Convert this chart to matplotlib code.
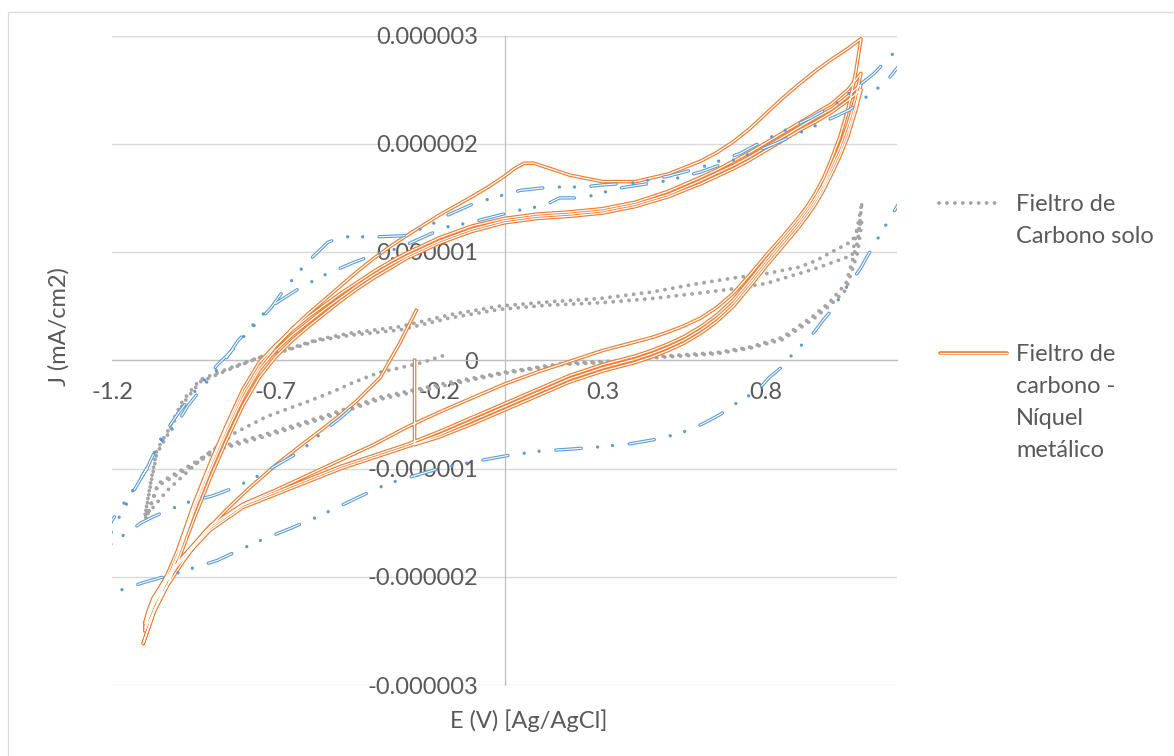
import matplotlib
matplotlib.use("Agg")
import matplotlib.pyplot as plt
import numpy as np
from matplotlib.lines import Line2D
from matplotlib.patches import Rectangle

plt.rcParams['font.family'] = ['Lato', 'DejaVu Sans']
plt.rcParams['lines.scale_dashes'] = False

W, H = 1174, 756
J_SCALE = 1e-6

# ---------------- Fieltro de Carbono solo (gris, punteado) ----------------
cf_start_e = [-0.19, -0.25, -0.32, -0.38, -0.45, -0.525, -0.6, -0.727, -0.83, -0.93, -1.03, -1.08, -1.1]
cf_start_j = [0.04, -0.02, -0.07, -0.11, -0.19, -0.29, -0.38, -0.52, -0.68, -0.92, -1.2, -1.38, -1.45]

cf_an_e = [-1.1, -1.08, -1.063, -1.032, -0.983, -0.931, -0.83, -0.727, -0.666, -0.574, -0.473, -0.32, -0.168,
           -0.015, 0.137, 0.29, 0.45, 0.595, 0.7, 0.8, 0.9, 0.953, 1.0, 1.063, 1.093]
cf_an1_j = [-1.45, -1.1, -0.83, -0.67, -0.37, -0.18, -0.06, 0.05, 0.09, 0.18, 0.23, 0.28, 0.39,
            0.47, 0.51, 0.53, 0.57, 0.62, 0.66, 0.71, 0.8, 0.85, 0.9, 0.97, 1.46]
cf_an2_j = [-1.45, -1.12, -0.86, -0.7, -0.4, -0.2, -0.07, 0.05, 0.1, 0.19, 0.25, 0.31, 0.42,
            0.5, 0.54, 0.57, 0.63, 0.71, 0.76, 0.8, 0.86, 0.92, 1.0, 1.1, 1.3]

cf_cat_e = [1.093, 1.08, 1.044, 0.992, 0.94, 0.849, 0.748, 0.647, 0.443, 0.38, 0.177, 0.0, -0.177, -0.38,
            -0.525, -0.727, -0.88, -0.95, -1.06, -1.093]
cf_cat1_j = [1.46, 1.1, 0.71, 0.53, 0.40, 0.21, 0.12, 0.07, 0.03, 0.0, -0.03, -0.11, -0.21, -0.34,
             -0.49, -0.68, -0.81, -0.95, -1.14, -1.45]
cf_cat2_j = [1.3, 1.0, 0.65, 0.5, 0.37, 0.19, 0.11, 0.06, 0.02, -0.01, -0.04, -0.12, -0.23, -0.36,
             -0.51, -0.7, -0.83, -0.97, -1.16, -1.43]

# ---------------- Fieltro de carbono - Níquel metálico (naranja) ----------------
ni_start_e = [-0.27, -0.32, -0.38, -0.45, -0.50, -0.55, -0.62, -0.70, -0.78, -0.85, -0.92, -0.98, -1.03, -1.07, -1.105]
ni_start_j = [0.46, 0.16, -0.16, -0.37, -0.50, -0.62, -0.78, -0.97, -1.18, -1.38, -1.6, -1.85, -2.08, -2.32, -2.62]

ni_an1_e = [-1.105, -1.07, -1.03, -1.0, -0.95, -0.9, -0.85, -0.8, -0.75, -0.7, -0.65, -0.6, -0.55, -0.5, -0.45,
            -0.4, -0.35, -0.3, -0.2, -0.1, -0.05, 0.0, 0.03, 0.06, 0.09, 0.13, 0.2, 0.3, 0.4, 0.5, 0.6, 0.65,
            0.7, 0.75, 0.8, 0.85, 0.9, 0.95, 1.0, 1.05, 1.09]
ni_an1_j = [-2.62, -2.3, -2.02, -1.8, -1.36, -0.98, -0.63, -0.31, -0.06, 0.13, 0.29, 0.43, 0.56, 0.69, 0.82,
            0.94, 1.05, 1.15, 1.34, 1.51, 1.6, 1.7, 1.77, 1.82, 1.82, 1.78, 1.71, 1.65, 1.65, 1.72, 1.84, 1.92,
            2.02, 2.14, 2.28, 2.42, 2.55, 2.67, 2.78, 2.88, 2.97]

ni_an_e = [-1.1, -1.07, -1.03, -1.0, -0.95, -0.9, -0.85, -0.8, -0.75, -0.7, -0.65, -0.6, -0.55, -0.5, -0.45,
           -0.4, -0.35, -0.3, -0.2, -0.1, 0.0, 0.1, 0.2, 0.3, 0.4, 0.5, 0.6, 0.65, 0.7, 0.75, 0.8, 0.85, 0.9,
           0.95, 1.0, 1.05, 1.09]
ni_an2_j = [-2.43, -2.2, -1.97, -1.76, -1.33, -0.95, -0.6, -0.27, -0.02, 0.14, 0.28, 0.4, 0.51, 0.62, 0.72,
            0.82, 0.91, 0.99, 1.13, 1.24, 1.31, 1.35, 1.37, 1.40, 1.46, 1.56, 1.69, 1.76, 1.84, 1.92, 2.01, 2.1,
            2.19, 2.28, 2.37, 2.5, 2.65]
ni_an3_j = [-2.47, -2.25, -2.02, -1.82, -1.4, -1.02, -0.67, -0.35, -0.09, 0.09, 0.23, 0.35, 0.47, 0.58, 0.69,
            0.79, 0.88, 0.96, 1.1, 1.21, 1.29, 1.33, 1.35, 1.38, 1.44, 1.53, 1.66, 1.73, 1.8, 1.88, 1.97, 2.06,
            2.15, 2.24, 2.32, 2.44, 2.55]
ni_an4_j = [-2.5, -2.3, -2.07, -1.87, -1.47, -1.09, -0.74, -0.42, -0.16, 0.03, 0.18, 0.31, 0.43, 0.55, 0.66,
            0.76, 0.85, 0.94, 1.08, 1.19, 1.27, 1.31, 1.33, 1.36, 1.42, 1.51, 1.63, 1.7, 1.77, 1.85, 1.94, 2.03,
            2.12, 2.2, 2.29, 2.4, 2.5]

ni_cat_e = [1.09, 1.075, 1.06, 1.05, 1.025, 1.0, 0.975, 0.95, 0.925, 0.9, 0.875, 0.85, 0.8, 0.75, 0.7, 0.65,
            0.6, 0.55, 0.5, 0.45, 0.4, 0.3, 0.2, 0.1, 0.0, -0.1, -0.2, -0.3, -0.4, -0.5, -0.6, -0.7, -0.8, -0.9,
            -0.95, -1.0, -1.05, -1.075, -1.09, -1.1]
ni_cat1_j = [2.97, 2.68, 2.45, 2.32, 2.06, 1.86, 1.68, 1.54, 1.42, 1.32, 1.23, 1.14, 0.97, 0.79, 0.62, 0.49,
             0.39, 0.32, 0.26, 0.21, 0.17, 0.09, -0.01, -0.11, -0.22, -0.35, -0.48, -0.62, -0.78, -0.92, -1.06,
             -1.2, -1.33, -1.53, -1.7, -1.87, -2.08, -2.2, -2.32, -2.43]
ni_cat2_j = [2.65, 2.45, 2.28, 2.18, 1.97, 1.8, 1.63, 1.5, 1.39, 1.29, 1.2, 1.11, 0.93, 0.74, 0.56, 0.42,
             0.31, 0.22, 0.15, 0.09, 0.04, -0.04, -0.14, -0.27, -0.40, -0.53, -0.66, -0.78, -0.88, -0.98, -1.1,
             -1.22, -1.34, -1.55, -1.71, -1.88, -2.1, -2.23, -2.35, -2.47]
ni_cat3_j = [2.55, 2.37, 2.22, 2.12, 1.92, 1.76, 1.6, 1.47, 1.36, 1.26, 1.17, 1.08, 0.9, 0.71, 0.53, 0.39,
             0.28, 0.19, 0.12, 0.06, 0.01, -0.07, -0.17, -0.3, -0.43, -0.56, -0.69, -0.8, -0.9, -1.0, -1.12,
             -1.24, -1.36, -1.57, -1.73, -1.9, -2.12, -2.26, -2.38, -2.5]
ni_end_e = [1.09, 1.075, 1.06, 1.05, 1.025, 1.0, 0.975, 0.95, 0.925, 0.9, 0.875, 0.85, 0.8, 0.75, 0.7, 0.65,
            0.6, 0.55, 0.5, 0.45, 0.4, 0.3, 0.2, 0.1, 0.0, -0.1, -0.2, -0.275, -0.275]
ni_end_j = [2.5, 2.32, 2.17, 2.07, 1.88, 1.72, 1.57, 1.44, 1.33, 1.23, 1.14, 1.05, 0.87, 0.68, 0.5, 0.36,
            0.25, 0.16, 0.09, 0.03, -0.02, -0.1, -0.2, -0.33, -0.46, -0.59, -0.71, -0.78, 0.0]

# ---------------- tercera serie (azul, sin leyenda) ----------------
bl_start_e = [-0.47, -0.50, -0.556, -0.595, -0.64, -0.68, -0.754, -0.82, -0.89, -0.977, -1.07, -1.11, -1.185, -1.25]
bl_start_j = [-0.45, -0.53, -0.66, -0.77, -0.87, -0.94, -1.07, -1.17, -1.25, -1.32, -1.44, -1.5, -1.66, -1.8]

bl_an1_e = [-1.3, -1.25, -1.2, -1.136, -1.093, -1.063, -1.0, -0.968, -0.91, -0.855, -0.815, -0.718, -0.635, -0.556,
            -0.464, -0.42, -0.32, -0.18, -0.107, 0.034, 0.122, 0.168, 0.217, 0.266, 0.35, 0.5, 0.6, 0.754, 0.834,
            0.968, 1.053, 1.166, 1.206, 1.3]
bl_an1_j = [-2.0, -1.78, -1.48, -1.2, -1.0, -0.8, -0.58, -0.42, -0.2, 0.0, 0.18, 0.49, 0.65, 0.78,
            0.9, 0.95, 1.04, 1.23, 1.27, 1.38, 1.43, 1.5, 1.5, 1.52, 1.59, 1.66, 1.74, 1.91, 2.01,
            2.19, 2.31, 2.57, 2.72, 3.05]

bl_cat_e = [1.3, 1.25, 1.206, 1.16, 1.111, 1.087, 1.032, 1.008, 0.974, 0.947, 0.879, 0.849, 0.809, 0.773, 0.696,
            0.66, 0.617, 0.571, 0.482, 0.388, 0.29, 0.205, 0.107, 0.01, -0.1, -0.2, -0.357, -0.443, -0.574, -0.66,
            -0.751, -0.879, -1.017, -1.1, -1.2, -1.3]
bl_cat_j = [3.05, 2.0, 1.45, 1.22, 0.97, 0.84, 0.62, 0.49, 0.37, 0.26, 0.05, -0.06, -0.16, -0.28, -0.42,
            -0.5, -0.57, -0.64, -0.72, -0.77, -0.80, -0.82, -0.84, -0.88, -0.94, -1.0, -1.14, -1.26, -1.45, -1.56,
            -1.67, -1.85, -1.98, -2.05, -2.15, -2.3]

bl_an2_e = [-1.3, -1.2, -1.136, -1.09, -1.05, -1.0, -0.95, -0.88, -0.83, -0.794, -0.715, -0.672, -0.605, -0.54,
            -0.495, -0.45, -0.39, -0.31, -0.266, -0.22, -0.174, -0.092, 0.0, 0.05, 0.14, 0.24, 0.3, 0.4, 0.5, 0.6,
            0.72, 0.8, 0.937, 1.014, 1.13, 1.19, 1.3]
bl_an2_j = [-2.3, -1.57, -1.22, -0.98, -0.72, -0.5, -0.3, -0.05, 0.1, 0.23, 0.48, 0.66, 0.90, 1.09,
            1.14, 1.14, 1.14, 1.15, 1.2, 1.26, 1.34, 1.45, 1.53, 1.57, 1.60, 1.60, 1.62, 1.64, 1.70, 1.78,
            1.91, 2.04, 2.24, 2.37, 2.65, 2.84, 3.15]

x_ticks = [-1.2, -0.7, -0.2, 0.3, 0.8]
x_tick_labels = ["-1.2", "-0.7", "-0.2", "0.3", "0.8"]
y_ticks = [-3, -2, -1, 0, 1, 2, 3]
y_tick_labels = ["-0.000003", "-0.000002", "-0.000001", "0", "0.000001", "0.000002", "0.000003"]

legend_labels = [["Fieltro de", "Carbono solo"], ["Fieltro de", "carbono -", "Níquel", "metálico"]]

GRAY = "#A5A5A5"
ORANGE = "#ED7D31"
BLUE = "#5B9BD5"
TXT = "#595959"

# series completas (orden del barrido)
cf_e = np.concatenate([cf_start_e, cf_an_e, cf_cat_e, cf_an_e, cf_cat_e])
cf_j = np.concatenate([cf_start_j, cf_an1_j, cf_cat1_j, cf_an2_j, cf_cat2_j]) * J_SCALE

ni_e = np.concatenate([ni_start_e, ni_an1_e, ni_cat_e, ni_an_e, ni_cat_e, ni_an_e, ni_cat_e, ni_an_e, ni_end_e])
ni_j = np.concatenate([ni_start_j, ni_an1_j, ni_cat1_j, ni_an2_j, ni_cat2_j, ni_an3_j, ni_cat3_j,
                       ni_an4_j, ni_end_j]) * J_SCALE

bl_e = np.concatenate([bl_start_e, bl_an1_e, bl_cat_e, bl_an2_e])
bl_j = np.concatenate([bl_start_j, bl_an1_j, bl_cat_j, bl_an2_j]) * J_SCALE

fig = plt.figure(figsize=(W / 100, H / 100), dpi=100)
ax = fig.add_axes([112 / W, (H - 685) / H, (897 - 112) / W, (685 - 35.5) / H])

dot_style = (0, (0.01, 5.7))
blue_dash = (0, (18.4, 12.0, 0.01, 10.8, 0.01, 11.8))
blue_inner = (0, (18.4, 34.62))

ax.plot(cf_e, cf_j, color=GRAY, lw=2.8, linestyle=dot_style, dash_capstyle='round', zorder=3)
ax.plot(ni_e, ni_j, color=ORANGE, lw=2.6, solid_joinstyle='round', zorder=4)
ax.plot(ni_e, ni_j, color='white', lw=0.9, solid_joinstyle='round', zorder=4)
ax.plot(bl_e, bl_j, color=BLUE, lw=2.4, linestyle=blue_dash, dash_capstyle='round', zorder=5)
ax.plot(bl_e, bl_j, color='white', lw=0.8, linestyle=blue_inner, dash_capstyle='round', zorder=5)

ax.set_xlim(-1.2, 1.2)
ax.set_ylim(-3e-6, 3e-6)
ax.set_xticks(x_ticks, labels=x_tick_labels)
ax.set_yticks([v * J_SCALE for v in y_ticks], labels=y_tick_labels)

for s in ['top', 'right']:
    ax.spines[s].set_visible(False)
ax.spines['left'].set_position(('data', 0))
ax.spines['bottom'].set_position(('data', 0))
for s in ['left', 'bottom']:
    ax.spines[s].set_color('#BFBFBF')
    ax.spines[s].set_linewidth(0.9)
    ax.spines[s].set_zorder(2)
ax.tick_params(axis='both', length=0, labelsize=17, labelcolor=TXT)
ax.tick_params(axis='y', pad=19)
ax.tick_params(axis='x', pad=16)
ax.yaxis.grid(True, color='#D9D9D9', lw=1.0)
ax.set_axisbelow(True)
ax.patch.set_alpha(0)

fig.text(529 / W, 1 - 721 / H, "E (V) [Ag/AgCl]", ha='center', va='center', fontsize=17, color=TXT)
fig.text(59 / W, 1 - 327 / H, "J (mA/cm2)", ha='center', va='center', rotation=90, fontsize=17, color=TXT)

# leyenda (solo dos series, como en el original)
fig.add_artist(Line2D([939 / W, 1002 / W], [1 - 203 / H] * 2, transform=fig.transFigure, color=GRAY,
                      lw=2.8, linestyle=dot_style, dash_capstyle='round'))
fig.add_artist(Line2D([940 / W, 1007 / W], [1 - 353 / H] * 2, transform=fig.transFigure, color=ORANGE,
                      lw=2.6, solid_capstyle='round'))
fig.add_artist(Line2D([940 / W, 1007 / W], [1 - 353 / H] * 2, transform=fig.transFigure, color='white',
                      lw=0.9, solid_capstyle='round'))
for lines, y0 in zip(legend_labels, [211, 361]):
    for k, t in enumerate(lines):
        fig.text(1016 / W, 1 - (y0 + 32 * k) / H, t, ha='left', va='baseline', fontsize=17, color=TXT)

fig.add_artist(Rectangle((8 / W, -0.05), 1.2, 1.05 - 12 / H, transform=fig.transFigure, fill=False,
                         edgecolor='#D9D9D9', lw=0.9))

fig.savefig("out.png", dpi=100)
